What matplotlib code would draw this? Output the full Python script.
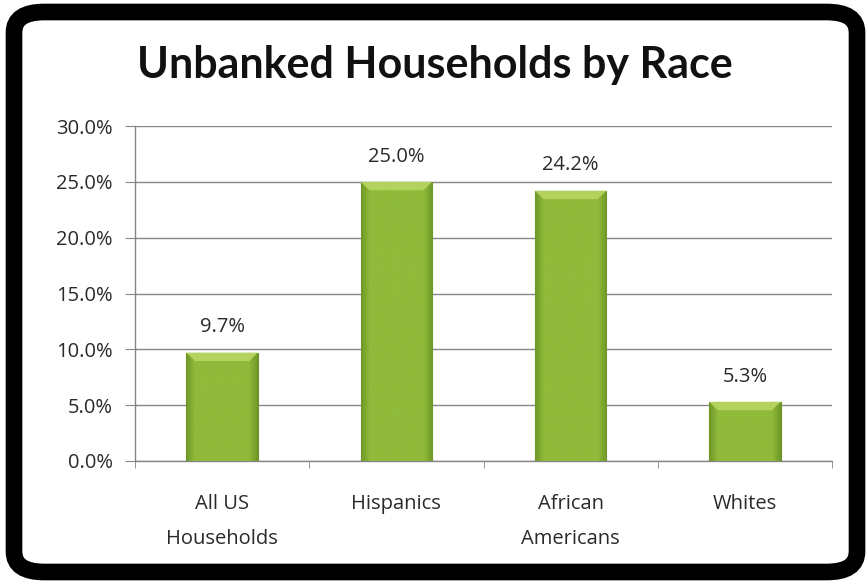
import numpy as np
import matplotlib.pyplot as plt
from matplotlib.patches import FancyBboxPatch, Polygon
from matplotlib.ticker import FuncFormatter

categories = ["All US\nHouseholds", "Hispanics", "African\nAmericans", "Whites"]
values = [9.7, 25.0, 24.2, 5.3]
yticks = [0, 5, 10, 15, 20, 25, 30]
title = "Unbanked Households by Race"

plt.rcParams['font.family'] = ['Open Sans', 'DejaVu Sans']

fig = plt.figure(figsize=(8.68, 5.84), dpi=100)
fig.patch.set_facecolor("white")

# rounded black frame around the whole chart
frame = FancyBboxPatch((14/868, 12/584), (857-14)/868, (572-12)/584,
                       boxstyle="round,pad=0,rounding_size=0.035",
                       transform=fig.transFigure, facecolor="white",
                       edgecolor="black", linewidth=12, zorder=-5)
fig.patches.append(frame)

ax = fig.add_axes([135/868, 1-461/584, (832-135)/868, (461-126)/584])
ax.set_facecolor("none")
x = np.arange(len(categories))
bw = 0.41
bars = ax.bar(x, values, width=bw, color="#8fbb3a", edgecolor="#6d8f2a",
              linewidth=0.8, zorder=3)

# bevel-like shading inside each bar: darker sides, flat middle
g = np.linspace(0, 1, 100)
shade = np.clip(np.minimum(g, 1 - g) / 0.12, 0, 1)
img = np.zeros((1, 100, 4))
img[0, :, 0] = (112 + 32*shade) / 255
img[0, :, 1] = (152 + 34*shade) / 255
img[0, :, 2] = (40 + 18*shade) / 255
img[0, :, 3] = 1
for b in bars:
    x0, w, h = b.get_x(), b.get_width(), b.get_height()
    im = ax.imshow(img, extent=[x0, x0+w, 0, h], aspect="auto", zorder=3.5)
    im.set_clip_path(b)
    # lighter top bevel
    bev_h, bev_w = 0.75, 0.05
    top = Polygon([[x0, h], [x0+w, h], [x0+w-bev_w, h-bev_h], [x0+bev_w, h-bev_h]],
                  closed=True, facecolor="#b4d35e", edgecolor="none", zorder=3.6)
    ax.add_patch(top)
    ax.annotate(f"{h:.1f}%", (x0+w/2, h), xytext=(0, 11), textcoords="offset points",
                ha="center", va="bottom", fontsize=14.5, color="#2a2a2a")

ax.set_xlim(-0.5, len(categories)-0.5)
ax.set_ylim(0, 30)
ax.set_yticks(yticks)
ax.yaxis.set_major_formatter(FuncFormatter(lambda v, p: f"{v:.1f}%"))
ax.grid(axis="y", color="#868686", linewidth=1, zorder=0)
ax.set_axisbelow(True)

ax.set_xticks(x)
ax.set_xticklabels(categories, fontsize=14.5, linespacing=1.95, color="#2a2a2a")
ax.set_xticks(np.arange(-0.5, len(categories)), minor=True)
ax.tick_params(axis="x", which="major", length=0, pad=24)
ax.tick_params(axis="x", which="minor", length=5, color="#868686", direction="out")
ax.tick_params(axis="y", length=7, color="#868686", labelsize=14.5, labelcolor="#2a2a2a", pad=9)

for s in ["top", "right"]:
    ax.spines[s].set_visible(False)
for s in ["left", "bottom"]:
    ax.spines[s].set_color("#868686")
    ax.spines[s].set_linewidth(1)

fig.text(435/868, 1-65/584, title, ha="center", va="center",
         fontsize=31, fontweight="bold", color="#111111", family=["Lato", "DejaVu Sans"])

fig.savefig("out.png", dpi=100)
